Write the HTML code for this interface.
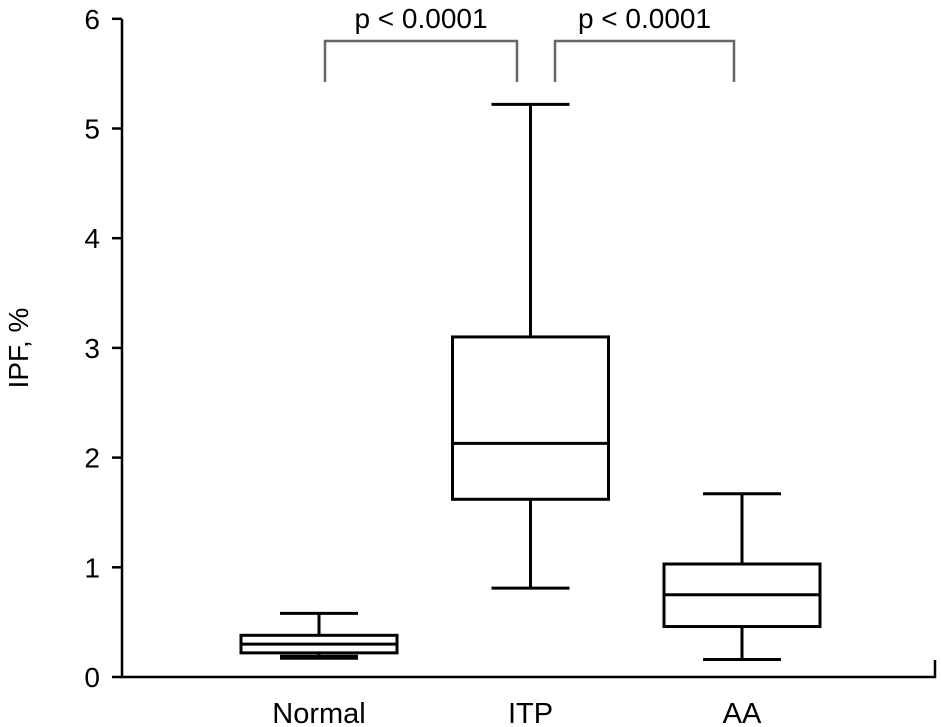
<!DOCTYPE html>
<html><head><meta charset="utf-8"><style>
body{margin:0;background:#fff}
svg{display:block;font-family:"Liberation Sans",sans-serif}
</style></head><body>
<svg id="c" width="941" height="727"></svg>
<script>
const categories=["Normal","ITP","AA"];
const whiskerLow=[0.18,0.81,0.16];
const q1=[0.22,1.62,0.46];
const medians=[0.30,2.13,0.75];
const q3=[0.38,3.10,1.03];
const whiskerHigh=[0.58,5.22,1.67];
const yTicks=[0,1,2,3,4,5,6];
const pLabels=["p < 0.0001","p < 0.0001"];
const NS="http://www.w3.org/2000/svg";
const svg=document.getElementById('c');
const y=v=>677-v*109.7;
const xc=i=>319+i*211.5;
function el(t,a,txt){const e=document.createElementNS(NS,t);for(const k in a)e.setAttribute(k,a[k]);if(txt!==undefined)e.textContent=txt;svg.appendChild(e);return e;}
let e;
e=el('path',{d:'M122,19V677H935V660',fill:'none',stroke:'#000','stroke-width':2.5});


yTicks.forEach(t=>{
 e=el('line',{x1:112,x2:122,y1:y(t),y2:y(t),stroke:'#000','stroke-width':2.5});
 
 
 e=el('text',{x:100,y:y(t)+10,'text-anchor':'end','font-size':28},t);
 
 
});
e=el('text',{x:0,y:0,transform:'translate(28,348) rotate(-90)','text-anchor':'middle','font-size':28},'IPF, %');


categories.forEach((c,i)=>{
 const x=xc(i),hw=78,cw=39;
 const g=el('g',{stroke:'#000','stroke-width':3,fill:'none'});
 
 
 const add=(t,a)=>{const s=document.createElementNS(NS,t);for(const k in a)s.setAttribute(k,a[k]);g.appendChild(s);};
 add('line',{x1:x,x2:x,y1:y(whiskerHigh[i]),y2:y(q3[i])});
 add('line',{x1:x,x2:x,y1:y(q1[i]),y2:y(whiskerLow[i])});
 add('line',{x1:x-cw,x2:x+cw,y1:y(whiskerHigh[i]),y2:y(whiskerHigh[i])});
 add('line',{x1:x-cw,x2:x+cw,y1:y(whiskerLow[i]),y2:y(whiskerLow[i]),'stroke-width':i===0?5:3});
 add('rect',{x:x-hw,y:y(q3[i]),width:2*hw,height:y(q1[i])-y(q3[i]),fill:'#fff'});
 add('line',{x1:x-hw,x2:x+hw,y1:y(medians[i]),y2:y(medians[i])});
 e=el('text',{x:x,y:723,'text-anchor':'middle','font-size':29},c);
 
 
});
const br=[[325,517],[555,734]];
br.forEach((b,i)=>{
 e=el('path',{d:`M${b[0]},82V41H${b[1]}V82`,fill:'none',stroke:'#666','stroke-width':2.5});
 
 
 e=el('text',{x:(b[0]+b[1])/2,y:28,'text-anchor':'middle','font-size':28},pLabels[i]);
 
 
});
</script>
</body></html>
